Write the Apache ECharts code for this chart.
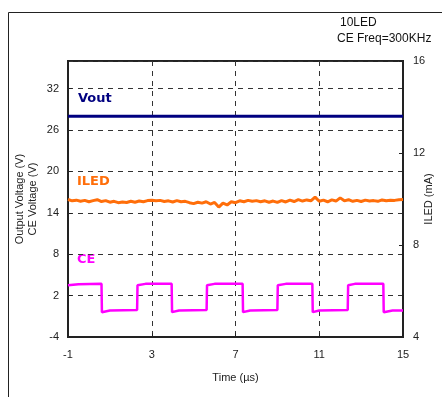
<!DOCTYPE html>
<html>
<head>
<meta charset="utf-8">
<script src="https://cdn.jsdelivr.net/npm/echarts@6/dist/echarts.min.js"></script>
<style>
html,body{margin:0;padding:0;background:#fff;}
#chart{width:442px;height:397px;}
</style>
</head>
<body>
<div id="chart"></div>
<script>
// ---- data ----
var xTicks = [-1, 3, 7, 11, 15];
var voltTicks = [-4, 2, 8, 14, 20, 26, 32];
var iledTicks = [4, 8, 12, 16];

var voutTime = [-1, 15];
var voutVolt = [28, 28];

var ceTime = [-1, -0.5, 0.6, 0.62, 1.0, 2.3, 2.32, 2.7, 3.95, 3.97, 4.3, 5.62, 5.64, 6.0, 7.34, 7.36, 7.7, 9.0, 9.02, 9.4, 10.67, 10.69, 11.0, 12.36, 12.38, 12.7, 14.06, 14.08, 14.5, 15];
var ceVolt = [3.5, 3.65, 3.7, -0.4, -0.15, -0.1, 3.5, 3.7, 3.7, -0.4, -0.15, -0.1, 3.5, 3.7, 3.7, -0.4, -0.15, -0.1, 3.5, 3.7, 3.7, -0.4, -0.15, -0.1, 3.5, 3.7, 3.7, -0.4, -0.15, -0.15];

var iledStart = -1, iledStep = 0.2;
var iledMA = [9.98, 9.92, 9.95, 9.90, 9.94, 9.88, 9.93, 9.97, 9.89, 9.93,
              9.86, 9.90, 9.84, 9.87, 9.85, 9.90, 9.86, 9.91, 9.88, 9.93,
              9.95, 9.92, 9.94, 9.89, 9.92, 9.87, 9.93, 9.88, 9.90, 9.84,
              9.80, 9.86, 9.82, 9.88, 9.78, 9.85, 9.65, 9.82, 9.74, 9.88,
              9.84, 9.92, 9.88, 9.94, 9.90, 9.93, 9.88, 9.92, 9.86, 9.91,
              9.85, 9.93, 9.87, 9.95, 9.89, 9.97, 9.91, 9.96, 9.92, 10.08,
              9.90, 9.95, 9.88, 9.96, 9.91, 10.05, 9.92, 9.97, 9.90, 9.94,
              9.89, 9.95, 9.91, 9.93, 9.90, 9.96, 9.92, 9.95, 9.94, 9.97, 9.98];

// ---- build ----
function pairs(xs, ys){ return xs.map(function(x,i){ return [x, ys[i]]; }); }
var iledData = iledMA.map(function(v,i){ return [+(iledStart + i*iledStep).toFixed(2), v]; });

var FONT = 'Liberation Sans';
var chart = echarts.init(document.getElementById('chart'), null, {renderer:'canvas'});
chart.setOption({
  animation:false,
  backgroundColor:'#fff',
  grid:{left:68, top:61, right:39, bottom:60, show:true, borderColor:'#222', borderWidth:2,
        backgroundColor:'transparent', containLabel:false, outerBoundsMode:'none'},
  xAxis:{
    type:'value', min:xTicks[0], max:xTicks[xTicks.length-1], interval:4,
    name:'Time (\u00b5s)', nameLocation:'middle', nameGap:35, nameMoveOverlap:false,
    nameTextStyle:{fontFamily:FONT, fontSize:11, color:'#222'},
    axisLine:{show:true, onZero:false, lineStyle:{color:'#222', width:2}},
    axisTick:{show:true, inside:true, length:4, lineStyle:{color:'#222'}},
    axisLabel:{fontFamily:FONT, fontSize:11, color:'#222', margin:12},
    splitLine:{show:true, lineStyle:{color:'#333', type:[5,5], width:1}}
  },
  yAxis:[{
    type:'value', min:voltTicks[0], max:36, interval:6,
    name:'Output Voltage (V)\nCE Voltage (V)', nameLocation:'middle', nameGap:29, nameRotate:90, nameMoveOverlap:false,
    nameTextStyle:{fontFamily:FONT, fontSize:11, color:'#222', lineHeight:13},
    axisLine:{show:true, onZero:false, lineStyle:{color:'#222', width:2}},
    axisTick:{show:true, inside:true, length:4, lineStyle:{color:'#222'}},
    axisLabel:{fontFamily:FONT, fontSize:11, color:'#222', margin:9, showMaxLabel:false},
    splitLine:{show:true, lineStyle:{color:'#333', type:[5,5], width:1}}
  },{
    type:'value', min:iledTicks[0], max:iledTicks[iledTicks.length-1], interval:4, position:'right',
    name:'ILED (mA)', nameLocation:'middle', nameGap:20, nameRotate:90, nameMoveOverlap:false,
    nameTextStyle:{fontFamily:FONT, fontSize:11, color:'#222'},
    axisLine:{show:true, onZero:false, lineStyle:{color:'#222', width:2}},
    axisTick:{show:true, inside:true, length:4, lineStyle:{color:'#222'}},
    axisLabel:{fontFamily:FONT, fontSize:11, color:'#222', margin:10},
    splitLine:{show:false}
  }],
  series:[
    {type:'line', name:'Vout', data:pairs(voutTime, voutVolt), yAxisIndex:0, symbol:'none',
     lineStyle:{color:'#000080', width:3}},
    {type:'line', name:'ILED', data:iledData, yAxisIndex:1, symbol:'none',
     lineStyle:{color:'#ff6e0a', width:3}},
    {type:'line', name:'CE', data:pairs(ceTime, ceVolt), yAxisIndex:0, symbol:'none',
     lineStyle:{color:'#ff00ff', width:2.5}}
  ],
  graphic:[
    {type:'rect', shape:{x:8.5, y:12.5, width:450, height:400}, style:{fill:'none', stroke:'#222', lineWidth:1}, silent:true, z:-1},
    {type:'text', left:340, top:17, style:{text:'10LED', font:'12px "Liberation Sans"', fill:'#111'}},
    {type:'text', left:337, top:33, style:{text:'CE Freq=300KHz', font:'12px "Liberation Sans"', fill:'#111'}},
    {type:'text', left:78, top:92, style:{text:'Vout', font:'bold 13px "DejaVu Sans"', fill:'#000080'}},
    {type:'text', left:77, top:175, style:{text:'ILED', font:'bold 13px "DejaVu Sans"', fill:'#ff6e0a'}},
    {type:'text', left:77, top:253, style:{text:'CE', font:'bold 13px "DejaVu Sans"', fill:'#ff00ff'}}
  ]
});
</script>
</body>
</html>
